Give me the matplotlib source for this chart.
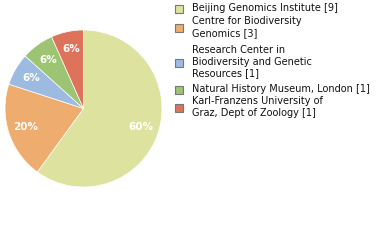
import matplotlib
matplotlib.use("Agg")
import matplotlib.pyplot as plt
from matplotlib.patches import Rectangle

labels = ["Beijing Genomics Institute [9]",
          "Centre for Biodiversity\nGenomics [3]",
          "Research Center in\nBiodiversity and Genetic\nResources [1]",
          "Natural History Museum, London [1]",
          "Karl-Franzens University of\nGraz, Dept of Zoology [1]"]
counts = [9, 3, 1, 1, 1]
colors = ["#dde39f", "#efac6f", "#9dbbe0", "#9cc473", "#dc735a"]

fig = plt.figure(figsize=(3.8, 2.4), dpi=100)
ax = fig.add_axes([5 / 380, 1 - 187 / 240, 157 / 380, 157 / 240])

wedges, texts, autotexts = ax.pie(
    counts, colors=colors, startangle=90, counterclock=False,
    autopct=lambda p: "%d%%" % int(p), pctdistance=0.77,
    wedgeprops=dict(linewidth=0.5, edgecolor="white"),
    textprops=dict(color="white", fontsize=7.5, fontweight="semibold"))
ax.set_xlim(-1, 1)
ax.set_ylim(-1, 1)
ax.set_aspect("equal")

# legend drawn by hand
tops = [9, 22, 51, 90, 102]
for lab, col, top in zip(labels, colors, tops):
    n = lab.count("\n") + 1
    yc = 1 - (top + (n - 1) * 6) / 240
    fig.patches.append(Rectangle((175 / 380, yc - 4 / 240), 8 / 380, 8 / 240,
                                 transform=fig.transFigure, facecolor=col,
                                 edgecolor="#777777", linewidth=0.8))
    fig.text(192 / 380, 1 - (top - 6) / 240, lab, fontsize=7, va="top",
             ha="left", color="#111111", linespacing=1.2)

fig.savefig("out.png", dpi=100)
